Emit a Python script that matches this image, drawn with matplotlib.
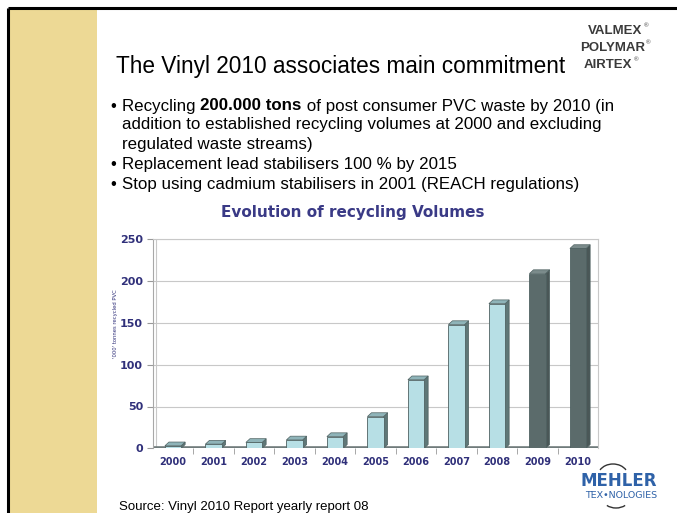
import numpy as np
import matplotlib
matplotlib.use('Agg')
from matplotlib import pyplot as plt
from matplotlib.patches import Polygon, Rectangle, Arc

years  = ['2000', '2001', '2002', '2003', '2004', '2005', '2006', '2007', '2008', '2009', '2010']
values = [3, 5, 7, 10, 14, 38, 82, 148, 173, 209, 239]
dark   = [False]*9 + [True]*2   # 2009 and 2010 drawn dark
yticks = [0, 50, 100, 150, 200, 250]

title   = 'The Vinyl 2010 associates main commitment'
bullets = [
  [('Recycling ', 'normal'), ('200.000 tons', 'bold'), (' of post consumer PVC waste by 2010 (in', 'normal')],
  [('addition to established recycling volumes at 2000 and excluding', 'normal')],
  [('regulated waste streams)', 'normal')],
  [('Replacement lead stabilisers 100 % by 2015', 'normal')],
  [('Stop using cadmium stabilisers in 2001 (REACH regulations)', 'normal')],
]
has_bullet = [True, False, False, True, True]
brands = ['VALMEX', 'POLYMAR', 'AIRTEX']

W, H = 677, 513
fig = plt.figure(figsize=(W/100, H/100), dpi=100)
fig.patch.set_facecolor('white')

# overlay in pixel coords for the slide decorations
bg = fig.add_axes([0, 0, 1, 1])
bg.set_xlim(0, W); bg.set_ylim(H, 0); bg.axis('off')
bg.add_patch(Rectangle((10, 9), 87, H, color='#edd995', lw=0))
bg.plot([8, W], [8, 8], color='black', lw=2.2, solid_capstyle='butt')
bg.plot([8, 8], [8, H], color='black', lw=2.2, solid_capstyle='butt')

sans = 'Liberation Sans'
bg.text(116, 66, title, fontsize=16.3, family=sans, va='center', ha='left')

renderer = fig.canvas.get_renderer()
ypos = [106, 125, 144, 165, 185]
for line, y, b in zip(bullets, ypos, has_bullet):
  if b:
    bg.text(110, y, '\u2022', fontsize=12, family=sans, va='center', ha='left')
  x = 122
  for txt, wt in line:
    t = bg.text(x, y, txt, fontsize=12.2, family=sans, weight=wt, va='center', ha='left')
    x = t.get_window_extent(renderer).x1

bg.text(119, 507, 'Source: Vinyl 2010 Report yearly report 08', fontsize=9.5, family=sans, va='center', ha='left')

# brand block top right
for name, x, y in zip(brands, [588, 580, 584], [31, 48, 65]):
  t = bg.text(x, y, name, fontsize=9.5, family=sans, weight='bold', color='#3a3a3a', va='center', ha='left')
  x1 = t.get_window_extent(renderer).x1
  bg.text(x1 + 1, y - 5, '\u00ae', fontsize=4.5, family=sans, color='#3a3a3a', va='center', ha='left')

# Mehler logo
bg.text(619, 481, 'MEHLER', fontsize=12, family='DejaVu Sans', weight='bold', color='#2f62a8', va='center', ha='center')
bg.text(621, 496, 'TEX\u2022NOLOGIES', fontsize=6.8, family='DejaVu Sans', color='#2f62a8', va='center', ha='center')
bg.add_patch(Arc((613, 476), 30, 24, theta1=205, theta2=335, color='#333333', lw=1))
bg.add_patch(Arc((616, 499), 26, 18, theta1=35, theta2=145, color='#333333', lw=1))

# chart title
navy = '#30307a'
bg.text(353, 213, 'Evolution of recycling Volumes', fontsize=11, family='DejaVu Sans', weight='bold',
        color='#3a3a86', va='center', ha='center')
bg.text(116, 324, "'000' tonnes recycled PVC", fontsize=3.8, family='DejaVu Sans', color=navy,
        rotation=90, va='center', ha='center')

# chart axes
left, right, y0px, y250px = 152.75, 598.25, 448.3, 239.3
ax = fig.add_axes([left/W, 1 - y0px/H, (right-left)/W, (y0px-y250px)/H])
ax.set_facecolor('none')
ax.set_xlim(-0.5, len(years) - 0.5)
ax.set_ylim(0, 250)
ax.set_yticks(yticks)
ax.yaxis.grid(True, color='#c8c8c8', lw=0.8)
ax.set_axisbelow(True)
for s in ['top', 'right']:
  ax.spines[s].set_color('#c8c8c8')
ax.spines['left'].set_color('#a8a8a8')
ax.spines['bottom'].set_visible(False)
ax.axvline(-0.42, color='#c8c8c8', lw=0.8)

x = np.arange(len(years))
ax.set_xticks(x)
ax.set_xticklabels(years)
ax.set_xticks(x[:-1] + 0.5, minor=True)
ax.tick_params(axis='x', which='major', length=0, pad=6)
ax.tick_params(axis='x', which='minor', length=4, color='#999999', direction='out')
ax.tick_params(axis='y', length=4, color='#999999', pad=3)
for lab in ax.get_xticklabels():
  lab.set_fontsize(7); lab.set_fontweight('bold'); lab.set_color(navy); lab.set_family('DejaVu Sans')
for lab in ax.get_yticklabels():
  lab.set_fontsize(8); lab.set_fontweight('bold'); lab.set_color(navy); lab.set_family('DejaVu Sans')

# floor
ax.axhline(0, color='#6f7b7b', lw=2.6, zorder=2)

bw, dx, dy = 0.4, 0.1, 4.5
face = ['#5b6b6b' if d else '#b7dfe5' for d in dark]
side = ['#4a5757' if d else '#5f7777' for d in dark]
topc = ['#7b8b8b' if d else '#8fb4b9' for d in dark]
ax.bar(x, values, width=bw, color=face, edgecolor='#4f6262', lw=0.6, zorder=4)
for i, v in enumerate(values):
  x0, x1 = i - bw/2, i + bw/2
  ax.add_patch(Polygon([(x1, 0), (x1+dx, dy), (x1+dx, v+dy), (x1, v)], closed=True,
                       facecolor=side[i], edgecolor='#4f6262', lw=0.5, zorder=3))
  ax.add_patch(Polygon([(x0, v), (x1, v), (x1+dx, v+dy), (x0+dx, v+dy)], closed=True,
                       facecolor=topc[i], edgecolor='#4f6262', lw=0.5, zorder=3))

fig.savefig('out.png', dpi=100)
